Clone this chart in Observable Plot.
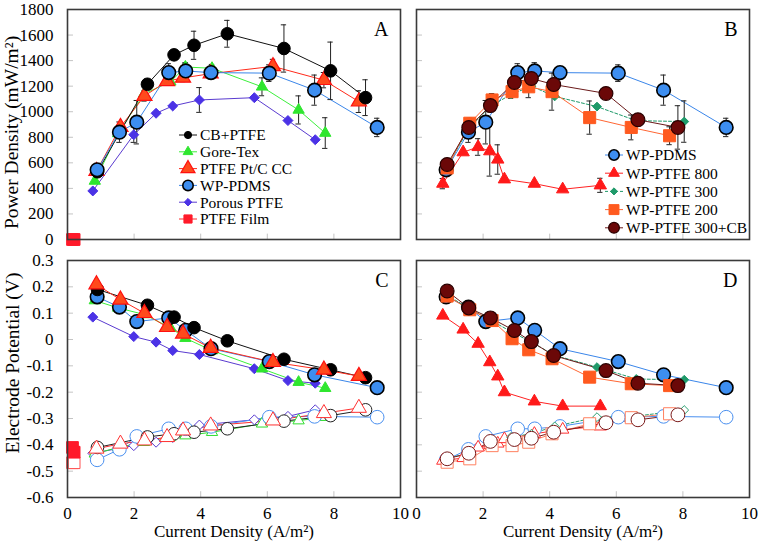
<!DOCTYPE html>
<html><head><meta charset="utf-8">
<script src="https://cdn.jsdelivr.net/npm/d3@7"></script>
<script src="https://cdn.jsdelivr.net/npm/@observablehq/plot@0.6"></script>
<style>
body{margin:0;background:#fff}
#wrap{position:relative;width:758px;height:542px;font-family:"Liberation Serif",serif}
</style>
</head><body><div id="wrap"></div>
<script>
// ---------- tick labels ----------
const currentTicks = [0, 2, 4, 6, 8, 10];
const powerTicks = [0, 200, 400, 600, 800, 1000, 1200, 1400, 1600, 1800];
const potentialTicks = [0.3, 0.2, 0.1, 0, -0.1, -0.2, -0.3, -0.4, -0.5, -0.6];

// ---------- Panel A / C data ----------
const cbX   = [0.9, 2.4, 3.2, 3.8, 4.8, 6.5, 7.9, 8.95];
const cbP   = [530, 1215, 1445, 1520, 1610, 1495, 1320, 1110];
const cbErr = [30, 40, 40, 110, 105, 185, 225, 140];
const cbCat = [0.19, 0.13, 0.085, 0.045, -0.005, -0.075, -0.115, -0.145];
const cbAn  = [-0.41, -0.37, -0.358, -0.352, -0.339, -0.31, -0.289, -0.267];

const gtX   = [0.82, 1.52, 2.3, 3.09, 3.54, 4.34, 5.84, 6.94, 7.74];
const gtP   = [458, 830, 1140, 1234, 1350, 1340, 1195, 1014, 833];
const gtErr = [0, 0, 0, 0, 30, 30, 70, 110, 120];
const gtCat = [0.148, 0.12, 0.095, 0.045, 0.005, -0.042, -0.111, -0.162, -0.185];
const gtAn  = [-0.434, -0.41, -0.39, -0.37, -0.365, -0.352, -0.32, -0.308, -0.295];

const ptX   = [0.87, 1.59, 2.31, 2.99, 3.47, 4.3, 6.17, 7.7, 8.75];
const ptP   = [535, 880, 1123, 1239, 1265, 1298, 1355, 1247, 1079];
const ptErr = [20, 30, 40, 30, 30, 25, 55, 60, 85];
const ptCat = [0.209, 0.151, 0.1, 0.047, 0.022, -0.032, -0.086, -0.115, -0.139];
const ptAn  = [-0.415, -0.396, -0.384, -0.371, -0.346, -0.327, -0.308, -0.28, -0.26];

const pdX   = [0.89, 1.56, 2.08, 3.04, 3.55, 4.31, 6.06, 7.42, 9.3];
const pdP   = [545, 840, 918, 1306, 1319, 1306, 1302, 1169, 877];
const pdErr = [30, 80, 170, 70, 65, 40, 65, 118, 72];
const pdCat = [0.162, 0.123, 0.068, 0.082, 0.035, -0.035, -0.084, -0.134, -0.183];
const pdAn  = [-0.457, -0.417, -0.368, -0.339, -0.339, -0.33, -0.295, -0.292, -0.295];

const ppX   = [0.76, 1.99, 2.66, 3.16, 3.96, 5.61, 6.62, 7.44];
const ppP   = [380, 820, 988, 1045, 1092, 1110, 931, 781];
const ppErr = [0, 60, 0, 0, 97, 0, 0, 0];
const ppCat = [0.085, 0.011, -0.01, -0.042, -0.057, -0.111, -0.156, -0.166];
const ppAn  = [-0.432, -0.403, -0.39, -0.372, -0.325, -0.305, -0.292, -0.267];

const pfX   = [0.15, 0.2];
const pfP   = [0, 0];
const pfErr = [0, 0];
const pfCat = [-0.41, -0.428];
const pfAn  = [-0.468, -0.468];

// ---------- Panel B / D data ----------
const w8X   = [0.79, 1.4, 1.85, 2.2, 2.44, 2.64, 3.54, 4.39, 5.52];
const w8P   = [437, 683, 724, 691, 626, 471, 437, 393, 424];
const w8Err = [40, 0, 65, 195, 115, 0, 0, 0, 55];
const w8Cat = [0.091, 0.038, -0.016, -0.086, -0.14, -0.2, -0.235, -0.253, -0.253];
const w8An  = [-0.46, -0.45, -0.41, -0.40, -0.395, -0.378, -0.358, -0.342, -0.33];

const w3X   = [0.9, 1.55, 2.2, 2.84, 3.45, 4.15, 5.42, 6.6, 8.04];
const w3P   = [560, 860, 1040, 1135, 1200, 1120, 1040, 930, 923];
const w3Err = [0, 0, 0, 30, 0, 0, 0, 0, 162];
const w3Cat = [0.17, 0.12, 0.075, 0.03, -0.01, -0.06, -0.105, -0.15, -0.153];
const w3An  = [-0.45, -0.435, -0.40, -0.37, -0.358, -0.33, -0.295, -0.291, -0.268];

const w2X   = [0.92, 1.6, 2.27, 2.87, 3.37, 4.07, 5.2, 6.45, 7.6];
const w2P   = [560, 910, 1092, 1157, 1195, 1157, 954, 877, 812];
const w2Err = [0, 40, 50, 0, 85, 145, 130, 97, 70];
const w2Cat = [0.165, 0.113, 0.072, 0.003, -0.039, -0.073, -0.143, -0.168, -0.175];
const w2An  = [-0.466, -0.453, -0.403, -0.403, -0.39, -0.358, -0.32, -0.297, -0.282];

const wcX   = [0.92, 1.57, 2.22, 2.94, 3.45, 4.12, 5.69, 6.65, 7.85];
const wcP   = [587, 877, 1048, 1229, 1260, 1213, 1143, 937, 877];
const wcErr = [0, 0, 0, 0, 0, 0, 0, 0, 170];
const wcCat = [0.184, 0.12, 0.082, 0.034, -0.008, -0.061, -0.118, -0.166, -0.175];
const wcAn  = [-0.453, -0.432, -0.387, -0.38, -0.375, -0.352, -0.316, -0.305, -0.286];

// ---------- series table ----------
const series = {
  "CB+PTFE":        {x: cbX, p: cbP, e: cbErr, cat: cbCat, an: cbAn},
  "Gore-Tex":       {x: gtX, p: gtP, e: gtErr, cat: gtCat, an: gtAn},
  "PTFE Pt/C CC":   {x: ptX, p: ptP, e: ptErr, cat: ptCat, an: ptAn},
  "WP-PDMS":        {x: pdX, p: pdP, e: pdErr, cat: pdCat, an: pdAn},
  "Porous PTFE":    {x: ppX, p: ppP, e: ppErr, cat: ppCat, an: ppAn},
  "PTFE Film":      {x: pfX, p: pfP, e: pfErr, cat: pfCat, an: pfAn},
  "WP-PTFE 800":    {x: w8X, p: w8P, e: w8Err, cat: w8Cat, an: w8An},
  "WP-PTFE 300":    {x: w3X, p: w3P, e: w3Err, cat: w3Cat, an: w3An},
  "WP-PTFE 200":    {x: w2X, p: w2P, e: w2Err, cat: w2Cat, an: w2An},
  "WP-PTFE 300+CB": {x: wcX, p: wcP, e: wcErr, cat: wcCat, an: wcAn}
};

// ---------- styles ----------
const styles = {
  "CB+PTFE":        {symbol: "circle",   r: 6.3, fill: "#000000", stroke: "#000000", sw: 1,   line: "#111111", open: "#222222", lr: 3.6},
  "Gore-Tex":       {symbol: "triangle", r: 4.2, fill: "#2fe62f", stroke: "#2fe62f", sw: 1,   line: "#3cf03c", open: "#30dd30", lr: 3.6},
  "PTFE Pt/C CC":   {symbol: "triangle", r: 5.6, fill: "#ff4a1c", stroke: "#ff1010", sw: 1.2, line: "#ff2a1a", open: "#ff3030", lr: 5.2},
  "WP-PDMS":        {symbol: "circle",   r: 6.8, fill: "#3d8ef0", stroke: "#000000", sw: 1.6, line: "#3a86ea", open: "#4a90f0", lr: 5.2},
  "Porous PTFE":    {symbol: "diamond2", r: 4.5, fill: "#4b32e6", stroke: "#4b32e6", sw: 1,   line: "#5a3bd0", open: "#5a3bd0", lr: 3.4},
  "PTFE Film":      {symbol: "square",   r: 6.6, fill: "#ff1a2a", stroke: "#ff1a2a", sw: 1,   line: "#ff2a2a", open: "#ff5050", lr: 4.6},
  "WP-PTFE 800":    {symbol: "triangle", r: 4.6, fill: "#ff1a1a", stroke: "#ff1a1a", sw: 1,   line: "#ff2222", open: "#ff3030", lr: 4.0},
  "WP-PTFE 300":    {symbol: "diamond2", r: 4.0, fill: "#1f9a6a", stroke: "#1f9a6a", sw: 1,   line: "#1f9a6a", open: "#2aa070", lr: 3.2, dash: "3,2"},
  "WP-PTFE 200":    {symbol: "square",   r: 6.8, fill: "#ff5a1f", stroke: "#ff5a1f", sw: 1,   line: "#ff6633", open: "#ff8060", lr: 5.6},
  "WP-PTFE 300+CB": {symbol: "circle",   r: 6.9, fill: "#6b0808", stroke: "#2a0000", sw: 1.2, line: "#6b1a1a", open: "#7a1a1a", lr: 5.4}
};

const orderA = ["Porous PTFE", "Gore-Tex", "PTFE Pt/C CC", "CB+PTFE", "WP-PDMS", "PTFE Film"];
const orderC = ["Porous PTFE", "Gore-Tex", "WP-PDMS", "CB+PTFE", "PTFE Pt/C CC", "PTFE Film"];
const orderBD = ["WP-PDMS", "WP-PTFE 800", "WP-PTFE 300", "WP-PTFE 200", "WP-PTFE 300+CB"];
const legendA = ["CB+PTFE", "Gore-Tex", "PTFE Pt/C CC", "WP-PDMS", "Porous PTFE", "PTFE Film"];
const legendB = ["WP-PDMS", "WP-PTFE 800", "WP-PTFE 300", "WP-PTFE 200", "WP-PTFE 300+CB"];

// ---------- helpers ----------
const FONT = "Liberation Serif, serif";
const wrap = document.getElementById("wrap");

function rowsOf(name, key) {
  const s = series[name];
  return s.x.map((x, i) => ({x, y: s[key][i], e: s.e[i]}));
}
function fmtPot(d) { return d === 0 ? "0" : (d < 0 ? "-" : "") + Math.abs(d).toFixed(1); }

function lineAndDots(name, key, open) {
  const st = styles[name];
  const data = rowsOf(name, key);
  const marks = [];
  if (data.length > 1) marks.push(Plot.line(data, {x: "x", y: "y", stroke: open ? st.open : st.line, strokeWidth: 1, strokeDasharray: st.dash}));
  return {line: marks, dots: [Plot.dot(data, {x: "x", y: "y", symbol: st.symbol, r: st.r,
    fill: open ? "white" : st.fill, fillOpacity: 1, stroke: open ? st.open : st.stroke, strokeWidth: open ? 1 : st.sw})]};
}
function errorBars(name) {
  const data = rowsOf(name, "p").filter(d => d.e > 0);
  return [
    Plot.ruleX(data, {x: "x", y1: d => d.y - d.e, y2: d => d.y + d.e, stroke: "#222", strokeWidth: 1}),
    Plot.ruleY(data, {y: d => d.y + d.e, x1: d => d.x - 0.08, x2: d => d.x + 0.08, stroke: "#222", strokeWidth: 1}),
    Plot.ruleY(data, {y: d => d.y - d.e, x1: d => d.x - 0.08, x2: d => d.x + 0.08, stroke: "#222", strokeWidth: 1})
  ];
}
function place(node, left, top) {
  node.style.position = "absolute";
  node.style.left = left + "px";
  node.style.top = top + "px";
  wrap.appendChild(node);
}
const frame = () => Plot.frame({stroke: "#3a3a3a", strokeWidth: 1.6});

function panel({left, top, width, height, margins, yDomain, yTicks, yLen, showY, showX, order, keys, letter, ytitle, ytitleShift, power}) {
  const marks = [];
  marks.push(Plot.ruleY(yTicks.filter(t => t !== yDomain[0] && t !== yDomain[1]), {y: d => d, x1: 0, x2: 0.18, stroke: "#c4c4c4", strokeWidth: 1}));
  marks.push(Plot.ruleX(currentTicks.filter(t => t > 0 && t < 10), {x: d => d, y1: yDomain[0], y2: yDomain[0] + yLen, stroke: "#c4c4c4", strokeWidth: 1}));
  const lines = [], dots = [], errs = [];
  for (const k of keys) {
    for (const name of order) {
      const ld = lineAndDots(name, k.key, k.open);
      lines.push(...ld.line); dots.push(...ld.dots);
    }
  }
  if (power) for (const name of order) errs.push(...errorBars(name));
  marks.push(...lines, ...errs, ...dots);
  marks.push(frame());
  if (showY) {
    marks.push(Plot.axisY({ticks: yTicks, tickSize: 0, tickPadding: 14, fontSize: 17, label: null,
      tickFormat: power ? (d => String(d)) : fmtPot}));
    marks.push(Plot.text([ytitle], {text: d => d, frameAnchor: "left", textAnchor: "middle", lineAnchor: "middle",
      rotate: -90, dx: ytitleShift[0], dy: ytitleShift[1], fontSize: 19.5}));
  }
  if (showX) {
    marks.push(Plot.axisX({ticks: currentTicks, tickSize: 0, tickPadding: 9, fontSize: 17, label: null, tickFormat: d => String(d)}));
    marks.push(Plot.text(["Current Density (A/m²)"], {text: d => d, frameAnchor: "bottom", lineAnchor: "middle", dy: 34.5, fontSize: 17}));
  }
  marks.push(Plot.text([letter], {text: d => d, frameAnchor: "top-right", textAnchor: "end", dx: -12, dy: 12, lineAnchor: "top", fontSize: 20}));
  const node = Plot.plot({
    width, height,
    marginLeft: margins[0], marginRight: margins[1], marginTop: margins[2], marginBottom: margins[3],
    x: {domain: [0, 10], axis: null},
    y: {domain: yDomain, axis: null},
    style: {fontFamily: FONT, background: "transparent", overflow: "visible", color: "#000"},
    marks
  });
  place(node, left, top);
}

// A
panel({left: 0, top: 0, width: 405, height: 250, margins: [67, 5, 9, 11], yDomain: [0, 1800], yTicks: powerTicks, yLen: 42,
  showY: true, showX: false, order: orderA, keys: [{key: "p", open: false}], letter: "A",
  ytitle: "Power Density (mW/m²)", ytitleShift: [-56, 8], power: true});
// B
panel({left: 380, top: 0, width: 378, height: 250, margins: [36, 9, 9, 11], yDomain: [0, 1800], yTicks: powerTicks, yLen: 42,
  showY: false, showX: false, order: orderBD, keys: [{key: "p", open: false}], letter: "B", power: true});
// C
panel({left: 0, top: 250, width: 410, height: 292, margins: [67, 10, 10, 45], yDomain: [-0.6, 0.3], yTicks: potentialTicks, yLen: 0.022,
  showY: true, showX: true, order: orderC, keys: [{key: "an", open: true}, {key: "cat", open: false}], letter: "C",
  ytitle: "Electrode Potential (V)", ytitleShift: [-55, -16], power: false});
// D
panel({left: 380, top: 250, width: 378, height: 292, margins: [36, 9, 10, 45], yDomain: [-0.6, 0.3], yTicks: potentialTicks, yLen: 0.022,
  showY: false, showX: true, order: orderBD, keys: [{key: "an", open: true}, {key: "cat", open: false}], letter: "D", power: false});

// ---------- legends ----------
const overlay = d3.select(wrap).append("svg")
  .attr("width", 758).attr("height", 542)
  .style("position", "absolute").style("left", "0px").style("top", "0px").style("pointer-events", "none")
  .style("font-family", FONT);
const symbolMap = {circle: d3.symbolCircle, triangle: d3.symbolTriangle, diamond2: d3.symbolDiamond2, square: d3.symbolSquare};
function legend(names, x0, y0, step, lineW) {
  names.forEach((name, i) => {
    const st = styles[name];
    const y = y0 + i * step;
    const g = overlay.append("g");
    g.append("line").attr("x1", x0).attr("x2", x0 + lineW).attr("y1", y).attr("y2", y)
      .attr("stroke", st.line).attr("stroke-width", 1).attr("stroke-dasharray", st.dash || null);
    g.append("path").attr("d", d3.symbol(symbolMap[st.symbol], Math.PI * st.lr * st.lr)())
      .attr("transform", `translate(${x0 + lineW / 2},${y})`)
      .attr("fill", st.fill).attr("stroke", st.stroke).attr("stroke-width", st.sw);
    g.append("text").attr("x", x0 + lineW + 3).attr("y", y).attr("dy", "0.35em")
      .style("font-family", FONT).attr("font-size", 15.5).attr("fill", "#000").text(name);
  });
}
legend(legendA, 179, 135, 16.8, 18);
legend(legendB, 605, 155, 18.2, 18);
</script>
</body></html>
